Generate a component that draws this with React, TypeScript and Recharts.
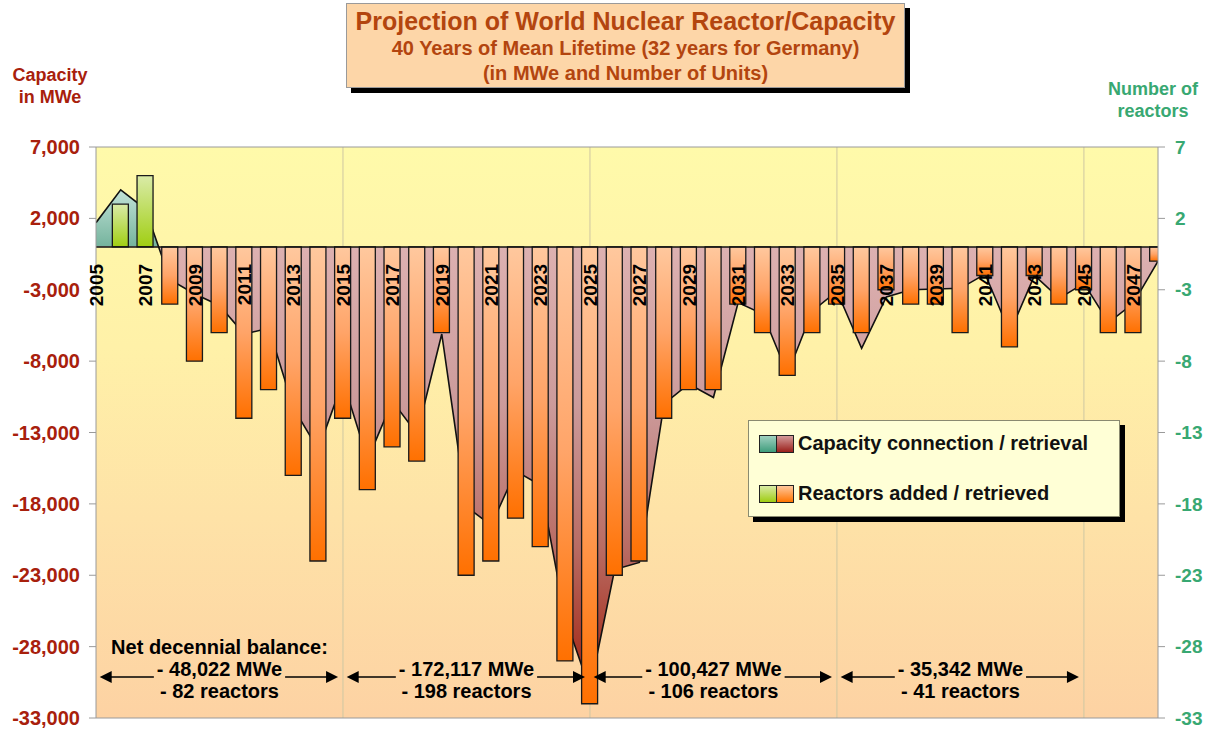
import React from "react";
import {
  ComposedChart,
  Area,
  Bar,
  Cell,
  XAxis,
  YAxis,
  CartesianGrid,
  ReferenceLine,
  Legend,
} from "recharts";

// years on the category axis
const years = Array.from({ length: 44 }, (_, i) => 2005 + i);

// capacity connected (+) / retired (-) per year, MWe
const capacityMWe = [
  1700, 4000, 2650, -2300, -3300, -4100, -6100, -5700, -11300, -14200,
  -9400, -14900, -10800, -13100, -6100, -18200, -19500, -15700, -16700, -26000,
  -31000, -22600, -22100, -11000, -9600, -10550, -3900, -4700, -8900, -4500,
  -3100, -7100, -3500, -3000, -2950, -2900, -1900, -6000, -2000, -3600,
  -2550, -5300, -3950, -1000,
];

// reactors added (+) / retired (-) per year
const reactorsNet = [
  0, 3, 5, -4, -8, -6, -12, -10, -16, -22,
  -12, -17, -14, -15, -6, -23, -22, -19, -21, -29,
  -32, -23, -22, -12, -10, -10, -4, -6, -9, -6,
  -4, -6, -3, -4, -4, -6, -2, -7, -2, -4,
  -3, -6, -6, -1,
];

const yearTicks = [
  2005, 2007, 2009, 2011, 2013, 2015, 2017, 2019, 2021, 2023, 2025,
  2027, 2029, 2031, 2033, 2035, 2037, 2039, 2041, 2043, 2045, 2047,
];
const mweTicks = [7000, 2000, -3000, -8000, -13000, -18000, -23000, -28000, -33000];
const unitTicks = [7, 2, -3, -8, -13, -18, -23, -28, -33];
const gridYears = [2015, 2025, 2035, 2045];

const decadeStarts = [2005, 2015, 2025, 2035];
const decadeMWe = ["- 48,022 MWe", "- 172,117 MWe", "- 100,427 MWe", "- 35,342 MWe"];
const decadeReactors = ["- 82 reactors", "- 198 reactors", "- 106 reactors", "- 41 reactors"];

const data = years.map((year, i) => ({
  year,
  capacity: capacityMWe[i],
  reactors: reactorsNet[i],
}));

// layout
const W = 1211;
const H = 729;
const PLOT_LEFT = 96;
const PLOT_RIGHT = 1158;
const PLOT_TOP = 147;
const PLOT_BOTTOM = 718;
const LEFT_AXIS_W = 90;
const RIGHT_AXIS_W = 50;
const X_AXIS_H = 1;
const FONT = '"Liberation Sans", Arial, Helvetica, sans-serif';

const MW_MAX = mweTicks[0];
const MW_MIN = mweTicks[mweTicks.length - 1];
const zeroY = PLOT_TOP + ((PLOT_BOTTOM - PLOT_TOP) * MW_MAX) / (MW_MAX - MW_MIN);
const zeroOffset = (zeroY - PLOT_TOP) / (PLOT_BOTTOM - PLOT_TOP);
const xOf = (year: number) =>
  PLOT_LEFT +
  ((year - years[0]) / (years[years.length - 1] - years[0])) * (PLOT_RIGHT - PLOT_LEFT);

const fmt = (v: number) => v.toLocaleString("en-US");

let measureCtx: CanvasRenderingContext2D | null = null;
function textWidth(s: string, font: string) {
  if (!measureCtx) measureCtx = document.createElement("canvas").getContext("2d");
  if (!measureCtx) return s.length * 10;
  measureCtx.font = font;
  return measureCtx.measureText(s).width;
}

function YearTick(props: any) {
  const { x, payload } = props;
  return (
    <text
      transform={`translate(${x},${zeroY + 17}) rotate(-90)`}
      textAnchor="end"
      dy="0.36em"
      fontSize={19}
      fontWeight="bold"
      fontFamily={FONT}
      fill="#000"
    >
      {payload.value}
    </text>
  );
}

function Swatch({ a, b }: { a: string; b: string }) {
  const sq = {
    width: 16,
    height: 16,
    border: "1px solid #222",
    display: "inline-block",
  };
  return (
    <span style={{ display: "inline-flex" }}>
      <span style={{ ...sq, background: a }} />
      <span style={{ ...sq, borderLeft: "none", background: b }} />
    </span>
  );
}

function LegendBox() {
  const row = {
    position: "absolute" as const,
    left: 10,
    display: "flex",
    alignItems: "center",
    gap: 4,
    fontFamily: FONT,
    fontWeight: "bold" as const,
    fontSize: 20,
    color: "#111",
    whiteSpace: "nowrap" as const,
  };
  return (
    <div
      style={{
        position: "relative",
        width: 372,
        height: 97,
        boxSizing: "border-box",
        background: "#FFFFD6",
        border: "1px solid #8a8a70",
        boxShadow: "5px 5px 0 #000",
      }}
    >
      <div style={{ ...row, top: 11 }}>
        <Swatch
          a="linear-gradient(#9fd0c0, #3f9d7c)"
          b="linear-gradient(#d49a9a, #9a1f1a)"
        />
        <span>Capacity connection / retrieval</span>
      </div>
      <div style={{ ...row, top: 61 }}>
        <Swatch
          a="linear-gradient(#d9eaa5, #9fcd12)"
          b="linear-gradient(#ffc79c, #ff7400)"
        />
        <span>Reactors added / retrieved</span>
      </div>
    </div>
  );
}

function Annotations() {
  const font = `bold 20px ${FONT}`;
  const arrowY = 677;
  const head = (x: number, dir: number) =>
    `${x},${arrowY} ${x + dir * 12},${arrowY - 6} ${x + dir * 12},${arrowY + 6}`;
  return (
    <svg
      width={W}
      height={H}
      style={{ position: "absolute", left: 0, top: 0, pointerEvents: "none" }}
    >
      {decadeStarts.map((start, i) => {
        const tipL = xOf(start + 0.15);
        const tipR = xOf(start + 9.8);
        const cx = xOf(start + 5);
        const hw = textWidth(decadeMWe[i], font) / 2 + 3;
        return (
          <g key={start}>
            <line x1={tipL + 11} y1={arrowY} x2={cx - hw} y2={arrowY} stroke="#000" strokeWidth={1.5} />
            <line x1={cx + hw} y1={arrowY} x2={tipR - 11} y2={arrowY} stroke="#000" strokeWidth={1.5} />
            <polygon points={head(tipL, 1)} fill="#000" />
            <polygon points={head(tipR, -1)} fill="#000" />
            {i === 0 && (
              <text x={cx} y={647} textAnchor="middle" dominantBaseline="central"
                fontFamily={FONT} fontWeight="bold" fontSize={20} fill="#000">
                Net decennial balance:
              </text>
            )}
            <text x={cx} y={669} textAnchor="middle" dominantBaseline="central"
              fontFamily={FONT} fontWeight="bold" fontSize={20} fill="#000">
              {decadeMWe[i]}
            </text>
            <text x={cx} y={691} textAnchor="middle" dominantBaseline="central"
              fontFamily={FONT} fontWeight="bold" fontSize={20} fill="#000">
              {decadeReactors[i]}
            </text>
          </g>
        );
      })}
    </svg>
  );
}

export default function App() {
  return (
    <div
      style={{
        position: "absolute",
        left: 0,
        top: 0,
        width: W,
        height: H,
        background: "#fff",
        fontFamily: FONT,
      }}
    >
      <ComposedChart
        width={W}
        height={H}
        data={data}
        margin={{
          top: PLOT_TOP,
          right: W - PLOT_RIGHT - RIGHT_AXIS_W,
          bottom: H - PLOT_BOTTOM - X_AXIS_H,
          left: PLOT_LEFT - LEFT_AXIS_W,
        }}
      >
        <defs>
          <linearGradient id="bgGrad" x1="0" y1="0" x2="0" y2="1">
            <stop offset="0" stopColor="#FFFAAA" />
            <stop offset="0.35" stopColor="#FFF1A8" />
            <stop offset="0.65" stopColor="#FEE2A7" />
            <stop offset="1" stopColor="#FDD2A3" />
          </linearGradient>
          <linearGradient
            id="areaGrad"
            gradientUnits="userSpaceOnUse"
            x1="0"
            y1={PLOT_TOP}
            x2="0"
            y2={PLOT_BOTTOM}
          >
            <stop offset="0" stopColor="#D8EEE6" />
            <stop offset={zeroOffset * 0.4} stopColor="#C6E5DB" />
            <stop offset={zeroOffset - 0.002} stopColor="#76B49E" />
            <stop offset={zeroOffset} stopColor="#DDB1B1" />
            <stop offset="0.45" stopColor="#CC9B9B" />
            <stop offset="0.7" stopColor="#B96C64" />
            <stop offset="0.9" stopColor="#A6301F" />
            <stop offset="1" stopColor="#981A10" />
          </linearGradient>
          <linearGradient id="orangeGrad" x1="0" y1="0" x2="0" y2="1">
            <stop offset="0" stopColor="#FFC89E" />
            <stop offset="0.5" stopColor="#FFA468" />
            <stop offset="1" stopColor="#FF7000" />
          </linearGradient>
          <linearGradient id="greenGrad" x1="0" y1="0" x2="0" y2="1">
            <stop offset="0" stopColor="#DAEBA8" />
            <stop offset="1" stopColor="#A0CE12" />
          </linearGradient>
        </defs>

        <CartesianGrid
          xAxisId="yr"
          yAxisId="mw"
          horizontal={false}
          verticalValues={gridYears}
          stroke="#CFC7A2"
          fill="url(#bgGrad)"
          fillOpacity={1}
        />

        <XAxis
          xAxisId="yr"
          dataKey="year"
          type="number"
          domain={[years[0], years[years.length - 1]]}
          allowDataOverflow
          ticks={yearTicks}
          interval={0}
          height={X_AXIS_H}
          tickLine={false}
          axisLine={{ stroke: "#9a9a9a" }}
          tick={(p: any) => <YearTick {...p} />}
        />
        <YAxis
          yAxisId="mw"
          orientation="left"
          width={LEFT_AXIS_W}
          domain={[MW_MIN, MW_MAX]}
          ticks={mweTicks}
          interval={0}
          tickFormatter={fmt}
          tickSize={7}
          tickMargin={9}
          axisLine={{ stroke: "#9a9a9a" }}
          tickLine={{ stroke: "#9a9a9a" }}
          tick={{ fill: "#A8200C", fontSize: 20, fontWeight: "bold", fontFamily: FONT }}
        />
        <YAxis
          yAxisId="n"
          orientation="right"
          width={RIGHT_AXIS_W}
          domain={[unitTicks[unitTicks.length - 1], unitTicks[0]]}
          ticks={unitTicks}
          interval={0}
          tickSize={7}
          tickMargin={10}
          axisLine={{ stroke: "#9a9a9a" }}
          tickLine={{ stroke: "#9a9a9a" }}
          tick={{ fill: "#38A872", fontSize: 19, fontWeight: "bold", fontFamily: FONT }}
        />

        <Area
          xAxisId="yr"
          yAxisId="mw"
          type="linear"
          dataKey="capacity"
          baseValue={0}
          stroke="#111"
          strokeWidth={1.6}
          fill="url(#areaGrad)"
          fillOpacity={1}
          isAnimationActive={false}
        />
        <Bar
          xAxisId="yr"
          yAxisId="n"
          dataKey="reactors"
          barSize={16}
          stroke="#1a1a1a"
          strokeWidth={1.3}
          isAnimationActive={false}
        >
          {data.map((d) => (
            <Cell
              key={d.year}
              fill={d.reactors >= 0 ? "url(#greenGrad)" : "url(#orangeGrad)"}
            />
          ))}
        </Bar>

        <ReferenceLine xAxisId="yr" yAxisId="mw" y={MW_MAX} stroke="#9a9a9a" />
        <ReferenceLine xAxisId="yr" yAxisId="mw" y={0} stroke="#111" strokeWidth={1.6} />

        <Legend
          layout="vertical"
          align="center"
          verticalAlign="middle"
          wrapperStyle={{ left: 748, top: 420, width: 372, height: 97 }}
          content={() => <LegendBox />}
        />
      </ComposedChart>

      <Annotations />

      {/* title box */}
      <div
        style={{
          position: "absolute",
          left: 346,
          top: 3,
          width: 559,
          height: 85,
          boxSizing: "border-box",
          background: "#FDD6A8",
          border: "1px solid #9a9a9a",
          boxShadow: "5px 5px 0 #000",
          textAlign: "center",
          color: "#B3450F",
          fontWeight: "bold",
          paddingTop: 2,
        }}
      >
        <div style={{ fontSize: 25, lineHeight: "30px" }}>
          Projection of World Nuclear Reactor/Capacity
        </div>
        <div style={{ fontSize: 20, lineHeight: "25px" }}>
          40 Years of Mean Lifetime (32 years for Germany)
        </div>
        <div style={{ fontSize: 20, lineHeight: "24px" }}>(in MWe and Number of Units)</div>
      </div>

      {/* axis titles */}
      <div
        style={{
          position: "absolute",
          left: 0,
          top: 64,
          width: 100,
          textAlign: "center",
          fontSize: 18,
          lineHeight: "22px",
          fontWeight: "bold",
          color: "#A8200C",
        }}
      >
        Capacity
        <br />
        in MWe
      </div>
      <div
        style={{
          position: "absolute",
          left: 1103,
          top: 78,
          width: 100,
          textAlign: "center",
          fontSize: 18,
          lineHeight: "22px",
          fontWeight: "bold",
          color: "#38A872",
        }}
      >
        Number of
        <br />
        reactors
      </div>
    </div>
  );
}
